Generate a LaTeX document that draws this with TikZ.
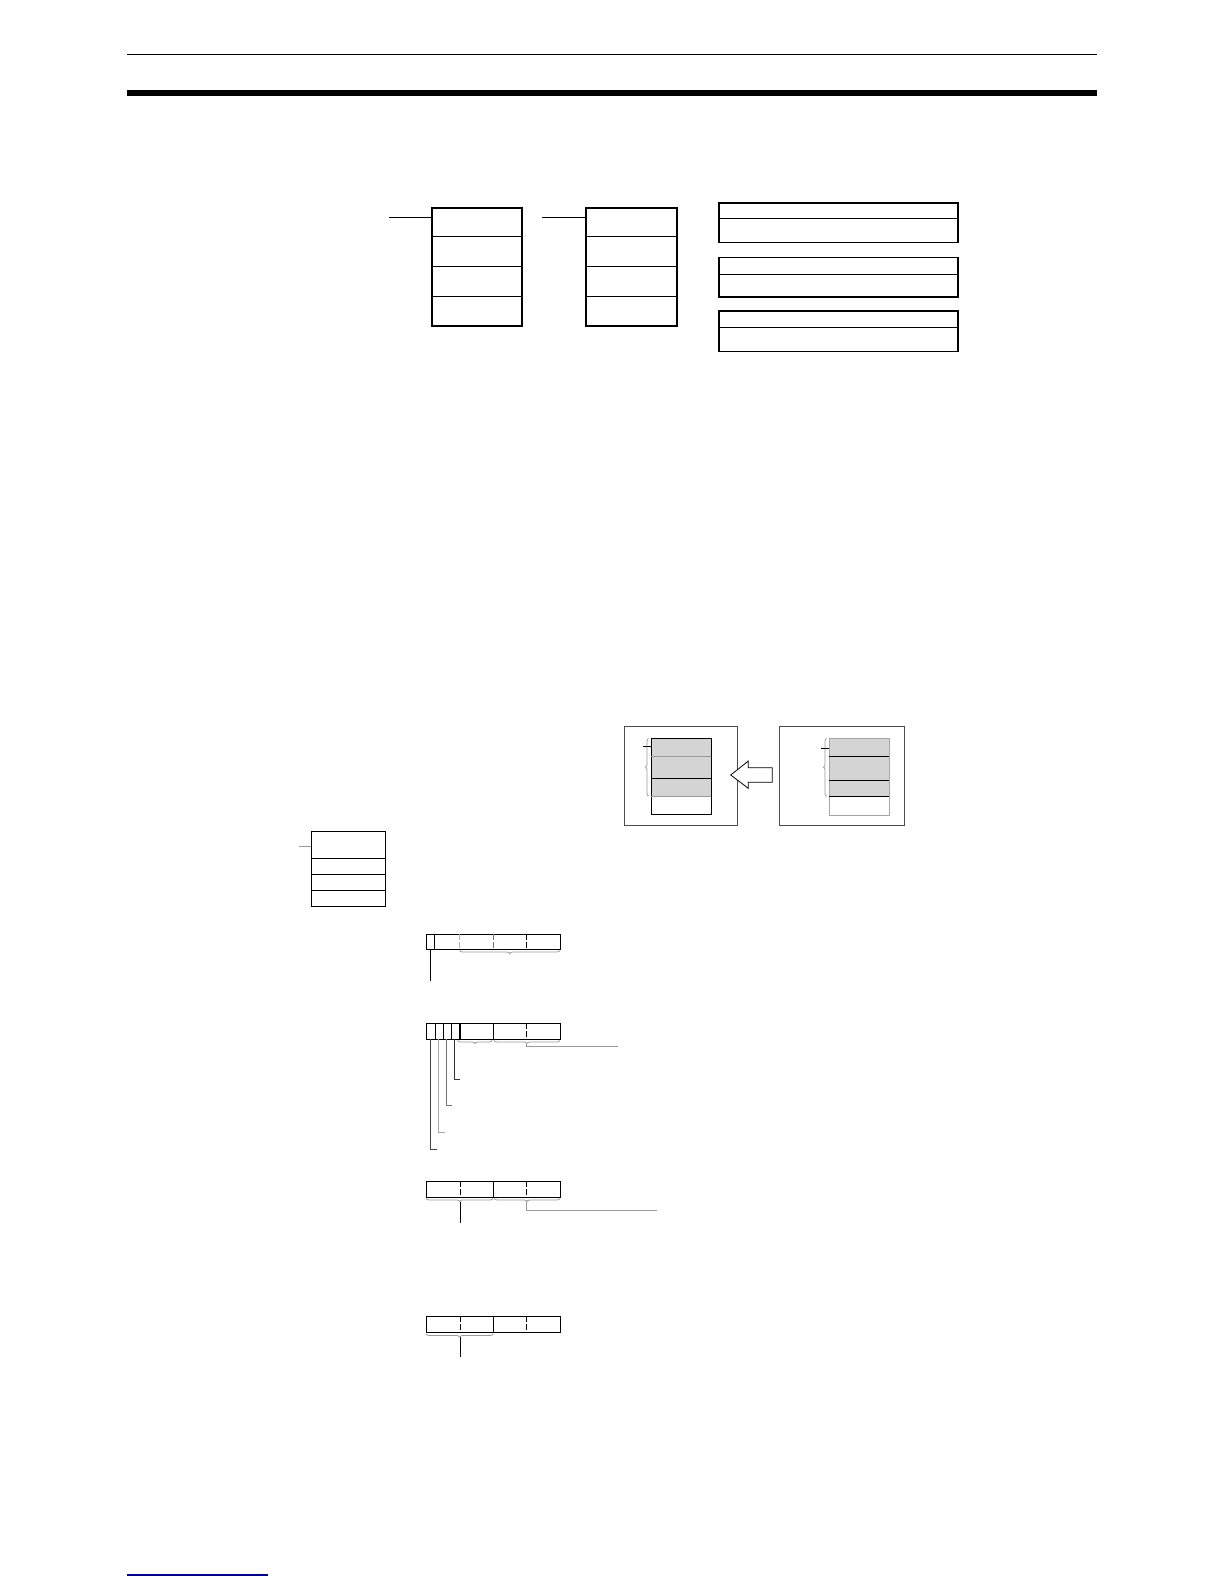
\documentclass[tikz,border=0pt]{standalone}
\usetikzlibrary{positioning,decorations.pathreplacing}
\begin{document}
\begin{tikzpicture}[x=1pt,y=-1pt,
box/.style={draw,line width=1.7pt,inner sep=0pt,anchor=north west},
cell/.style={line width=0.9pt},
frame/.style={draw=black!70,line width=1pt,inner sep=0pt,anchor=north west},
bits/.style={draw,line width=1pt,inner sep=0pt,anchor=north west,minimum width=133.4pt},
split/.style={line width=0.9pt,dash pattern=on 6pt off 2pt},
lead/.style={line width=0.9pt},
greylead/.style={line width=1pt,draw=black!40},
brc/.style={draw=black!40,line width=0.8pt,decorate,decoration={brace,amplitude=3pt,mirror}},
vbrc/.style={draw=black!40,line width=0.8pt,decorate,decoration={brace,amplitude=3pt}},
shade/.style={fill=black!17}]
\useasboundingbox (0,0) rectangle (1224,1584);
\draw[line width=1pt] (127,55) -- (1097,55);
\draw[line width=5.7pt] (127,92.8) -- (1097,92.8);
\draw[line width=1.3pt,draw=blue!55!black] (127,1575) -- (268,1575);
% word stacks and operand boxes
\node[box,minimum width=90pt,minimum height=118pt] (wordsA) at (431,207) {};
\node[box,minimum width=91pt,minimum height=118pt] (wordsB) at (585,207) {};
\foreach \y in {236,266.5,296} {
  \draw[cell] (wordsA.west |- 0,\y) -- (wordsA.east |- 0,\y);
  \draw[cell] (wordsB.west |- 0,\y) -- (wordsB.east |- 0,\y);
}
\coordinate (inA) at (389,217.5);
\coordinate (inB) at (542,217.5);
\draw[lead] (inA) -- (inA -| wordsA.west);
\draw[lead] (inB) -- (inB -| wordsB.west);
\foreach \t/\d/\h/\n in {202/218.5/39.5/opA,256.5/274/39.5/opB,310/327.5/40.5/opC} {
  \node[box,minimum width=239pt,minimum height=\h pt] (\n) at (718,\t) {};
  \draw[cell] (\n.west |- 0,\d) -- (\n.east |- 0,\d);
}
% before / after
\node[frame,minimum width=113pt,minimum height=99pt] (before) at (624,726) {};
\node[frame,minimum width=125pt,minimum height=99pt] (after) at (779,726) {};
\fill[shade] (651,738.3) rectangle (711,796);
\draw[line width=0.9pt] (651,738.3) rectangle (711,814.3);
\draw[draw=black!40] (651,755.7) -- (711,755.7);
\draw[line width=0.9pt] (651,778.3) -- (711,778.3);
\draw[draw=black!40] (651,796) -- (711,796);
\draw[vbrc] (648.5,796) -- (648.5,738.3);
\draw[line width=0.9pt] (643.3,746) -- (651,746);
\fill[shade] (829,738.3) rectangle (889,796.3);
\draw[draw=black!35,line width=0.9pt] (829,738.3) rectangle (889,815);
\foreach \y in {756.7,780,796.3} \draw[line width=0.9pt] (829,\y) -- (889,\y);
\draw[vbrc] (826.5,796.3) -- (826.5,738.3);
\draw[line width=0.9pt] (821,748) -- (829,748);
\draw[line width=0.8pt,fill=white] (730.7,775) -- (748.3,761) -- (748.3,767.7) -- (772.3,767.7)
  -- (772.3,782.3) -- (748.3,782.3) -- (748.3,788.3) -- cycle;
% small table
\node[draw,line width=0.9pt,inner sep=0pt,anchor=north west,minimum width=74.6pt,minimum height=75pt] (table) at (310.7,831) {};
\foreach \y in {858.7,874.3,890.3} \draw[cell] (table.west |- 0,\y) -- (table.east |- 0,\y);
\coordinate (inT) at (299,846);
\draw[greylead] (inT) -- (inT -| table.west);
% bit layouts
\node[bits,minimum height=15pt] (bitsA) at (426.3,934.3) {};
\draw[cell] (434.3,934.3) -- (434.3,949.3);
\draw[split,draw=black!30] (459.7,934.3) -- (459.7,949.3);
\draw[split,draw=black!55] (493.3,934.3) -- (493.3,949.3);
\draw[split] (526.7,934.3) -- (526.7,949.3);
\draw[brc] (459.7,950.5) -- (559.7,950.5);
\coordinate (flagA) at (430.3,980.7);
\draw[lead] (flagA |- bitsA.south) -- (flagA);
\node[bits,minimum height=16pt] (bitsB) at (426.3,1023.3) {};
\foreach \x in {435.3,443.3,451.3,493.3} \draw[cell] (\x,1023.3) -- (\x,1039.3);
\draw[line width=2pt] (459.7,1023.3) -- (459.7,1039.3);
\draw[split] (526.7,1023.3) -- (526.7,1039.3);
\draw[brc] (457.7,1040.5) -- (492.3,1040.5);
\draw[brc] (494,1040.5) -- (559.7,1040.5);
\coordinate (outB) at (617.7,1046);
\draw[greylead] (526.7,1043.5) |- (outB);
\foreach \x/\y/\e/\c in {430.7/1149/437.3/black!75,438/1132.7/445/black!35,446.3/1105.3/452.3/black!55,454/1079.3/460/black!80}
  \draw[lead,draw=\c] (\x,1039.3) |- (\e,\y);
\node[bits,minimum height=16.3pt] (bitsC) at (426.3,1181) {};
\node[bits,minimum height=16pt] (bitsD) at (426.3,1316.3) {};
\foreach \n in {bitsC,bitsD} {
  \draw[split] (\n.north west) ++(34,0) -- ++(0,16);
  \draw[cell] (\n.north west) ++(67,0) -- ++(0,16);
  \draw[split] (\n.north west) ++(100.4,0) -- ++(0,16);
}
\draw[brc] (426.3,1198.5) -- (493,1198.5);
\draw[brc] (494.3,1198.5) -- (559.7,1198.5);
\coordinate (flagC) at (460,1223.3);
\draw[lead] (460,1201.5) -- (flagC);
\coordinate (outC) at (656.7,1210);
\draw[greylead] (526.7,1201.5) |- (outC);
\draw[brc] (426.3,1334) -- (493,1334);
\coordinate (flagD) at (460,1357);
\draw[lead] (460,1337) -- (flagD);
\end{tikzpicture}
\end{document}
